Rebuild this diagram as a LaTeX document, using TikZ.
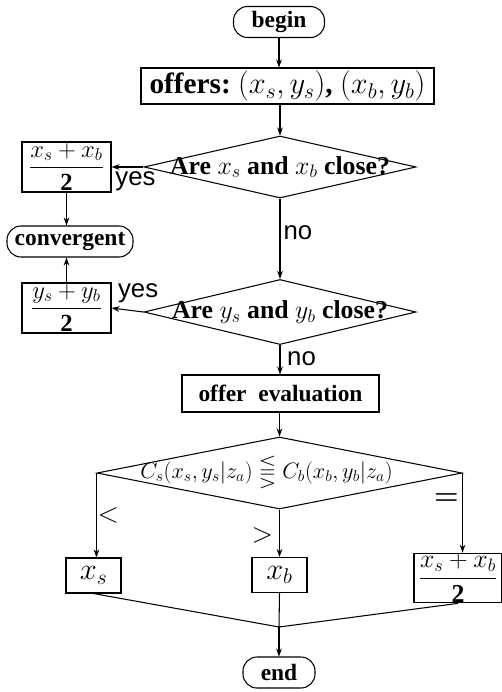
\RequirePackage{fix-cm}
\documentclass[tikz,border=0pt]{standalone}
\usepackage{amsmath}
\usepackage{amssymb}
\usepackage{fontspec}
\setmainfont{Liberation Serif}
\setsansfont{Liberation Sans}
\usetikzlibrary{shapes.geometric, positioning, arrows.meta, calc}
\tikzset{
  startstop/.style={rectangle, rounded corners=0.42cm, minimum height=0.93cm, inner sep=0pt, text centered, draw=black, line width=0.9pt, font=\bfseries\fontsize{20}{23}\selectfont},
  process/.style={rectangle, minimum height=1.05cm, inner sep=0pt, text centered, draw=black, line width=0.9pt, font=\bfseries\fontsize{20}{23}\selectfont},
  decision/.style={diamond, inner sep=0pt, draw=black, line width=0.9pt, font=\bfseries\fontsize{22}{25}\selectfont},
  arrow/.style={line width=0.9pt, -{Stealth[length=0.24cm, width=0.17cm]}},
  link/.style={line width=0.9pt},
  answer/.style={inner sep=0pt, font=\sffamily\fontsize{22}{24}\selectfont},
  relation/.style={inner sep=0pt, font=\fontsize{24}{26}\selectfont}
}
\newcommand{\bigmath}[1]{{\fontsize{26}{28}\selectfont$#1$}}

\begin{document}
\begin{tikzpicture}[x=0.03cm, y=-0.03cm]
            \useasboundingbox (0,0) rectangle (502,692);

            \node (begin) [startstop, minimum width=2.73cm] at (279,22) {begin};
            \node (offers) [process, minimum width=8.79cm, minimum height=1.08cm, font=\bfseries\fontsize{25}{28}\selectfont] at (287.5,86) {offers:~\bigmath{(x_s, y_s)}, \bigmath{(x_b, y_b)}};
            \node (xclose) [decision, minimum width=8.16cm, minimum height=1.86cm] at (280,167) {\makebox[0pt]{Are $x_s$ and $x_b$ close?}};
            \node (xmean) [process, minimum width=2.67cm, minimum height=1.5cm, font=\bfseries\fontsize{21}{24}\selectfont] at (66.5,167) {$\dfrac{x_s+x_b}{\mathbf{2}}$};
            \node (conv) [startstop, minimum width=3.78cm] at (70,241.5) {convergent};
            \node (ymean) [process, minimum width=2.67cm, minimum height=1.5cm, font=\bfseries\fontsize{21}{24}\selectfont] at (66.5,308) {$\dfrac{y_s+y_b}{\mathbf{2}}$};
            \node (yclose) [decision, minimum width=8.16cm, minimum height=1.95cm] at (280,312) {\makebox[0pt]{Are $y_s$ and $y_b$ close?}};
            \node (eval) [process, minimum width=5.91cm, minimum height=1.11cm] at (280.5,393.5) {offer~~evaluation};
            \node (compare) [decision, minimum width=10.95cm, minimum height=2.16cm] at (279.5,473) {\makebox[0pt]{\fontsize{19}{22}\selectfont $C_s(x_s, y_s|z_a)\lesseqqgtr C_b(x_b, y_b|z_a)$\hspace{0.78cm}}};
            \node (seller) [process, minimum width=1.65cm] at (93.5,575.5) {\bigmath{x_s}};
            \node (buyer) [process, minimum width=1.65cm] at (279.5,575) {\bigmath{x_b}};
            \node (split) [process, minimum width=2.64cm, minimum height=1.26cm, font=\bfseries\fontsize{22}{24}\selectfont] at (458,578) {$\dfrac{x_s+x_b}{\mathbf{2}}$};
            \coordinate (join) at (279,627);
            \node (stop) [startstop, minimum width=2.16cm] at (279,672.5) {end};

            \draw [arrow] (begin.south) -- (begin.south |- offers.north);
            \draw [arrow] (xclose.north |- offers.south) -- (xclose.north);
            \draw [arrow] (xclose.west) -- (xmean.east) node[answer, pos=1, anchor=north west, xshift=0.1cm, yshift=-0.12cm] {yes};
            \draw [arrow] (xmean.south) -- (xmean.south |- conv.north);
            \draw [arrow] (xclose.south) -- node[answer, pos=0.43, anchor=west, xshift=0.09cm] {no} (yclose.north);
            \draw [arrow] (yclose.west) -- (ymean.east) node[answer, pos=1, anchor=south west, xshift=0.18cm, yshift=0.13cm] {yes};
            \draw [arrow] (ymean.north) -- (ymean.north |- conv.south);
            \draw [arrow] (yclose.south) -- node[answer, pos=0.45, anchor=west, xshift=0.2cm] {no} (yclose.south |- eval.north);
            \draw [arrow] (compare.north |- eval.south) -- (compare.north);

            % three outcomes of the comparison
            \draw [arrow] (compare.west) -- node[relation, pos=0.5, anchor=west, xshift=0.02cm] {$<$} (compare.west |- seller.north);
            \draw [arrow] (compare.south) -- node[relation, pos=0.55, anchor=east, xshift=-0.18cm] {$>$} (buyer.north);
            \draw [arrow] (compare.east) -- node[relation, pos=0.33, anchor=east, xshift=-0.1cm] {$\boldsymbol{=}$} (compare.east |- split.north);

            \draw [link] (seller.south) -- (join);
            \draw [link] (split.south) -- (join);
            \draw [link] (buyer.south) -- (join);
            \draw [arrow] (join) -- (stop.north);

        \end{tikzpicture}
\end{document}
